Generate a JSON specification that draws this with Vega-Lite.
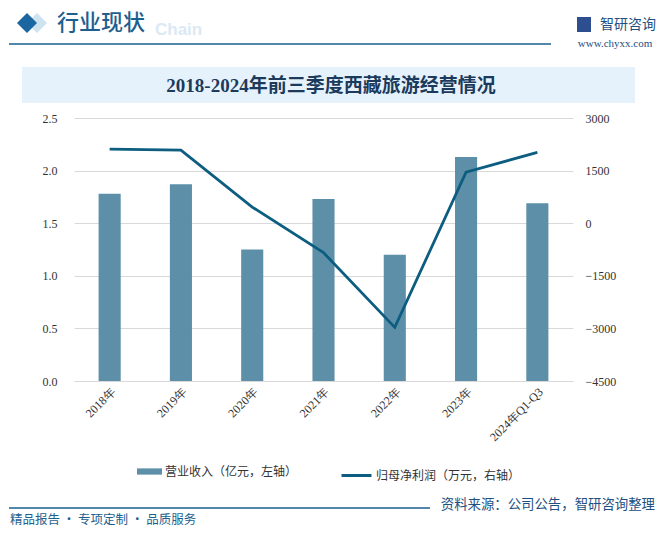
{
  "$schema": "https://vega.github.io/schema/vega-lite/v6.json",
  "width": 499,
  "height": 263,
  "autosize": {"type": "none"},
  "padding": {"left": 74, "top": 118, "right": 94, "bottom": 152},
  "background": "white",
  "config": {
    "view": {"stroke": null},
    "font": "Noto Sans CJK SC"
  },
  "data": {
    "values": [
      {"year": "2018年", "revenue": 1.78, "profit": 2114},
      {"year": "2019年", "revenue": 1.87, "profit": 2086},
      {"year": "2020年", "revenue": 1.25, "profit": 460},
      {"year": "2021年", "revenue": 1.73, "profit": -840},
      {"year": "2022年", "revenue": 1.2, "profit": -2970},
      {"year": "2023年", "revenue": 2.13, "profit": 1457},
      {"year": "2024年Q1-Q3", "revenue": 1.69, "profit": 2017}
    ]
  },
  "layer": [
    {
      "mark": {"type": "bar", "color": "#5d90a8"},
      "encoding": {
        "x": {
          "field": "year", "type": "nominal", "sort": null,
          "scale": {"paddingInner": 0.69, "paddingOuter": 0.345},
          "axis": {
            "title": null, "labelAngle": -45, "labelFont": "Liberation Serif", "labelFontSize": 12,
            "labelColor": "#333333", "ticks": false, "domain": true, "domainColor": "#d9d9d9",
            "labelPadding": 5
          }
        },
        "y": {
          "field": "revenue", "type": "quantitative",
          "scale": {"domain": [0, 2.5]},
          "axis": {
            "title": null, "values": [0, 0.5, 1, 1.5, 2, 2.5], "format": ".1f",
            "ticks": false, "domain": false, "grid": true, "gridColor": "#d9d9d9",
            "labelFont": "Liberation Serif", "labelFontSize": 12, "labelColor": "#333333", "labelPadding": 17
          }
        },
        "color": {
          "datum": "营业收入（亿元，左轴）",
          "scale": {"range": ["#5d90a8"]},
          "legend": {
            "title": null, "orient": "none", "legendX": 63, "legendY": 341, "padding": 0,
            "symbolType": "M-1,-0.25H1V0.25H-1Z", "symbolSize": 625, "symbolStrokeWidth": 0,
            "labelFont": "Noto Sans CJK SC", "labelFontSize": 12, "labelColor": "#333333", "labelLimit": 300, "labelOffset": 3
          }
        }
      }
    },
    {
      "mark": {"type": "line", "color": "#0c5d80", "strokeWidth": 2.8},
      "encoding": {
        "x": {"field": "year", "type": "nominal", "sort": null},
        "y": {
          "field": "profit", "type": "quantitative",
          "scale": {"domain": [-4500, 3000]},
          "axis": {
            "title": null, "orient": "right", "values": [-4500, -3000, -1500, 0, 1500, 3000], "format": "d",
            "ticks": false, "domain": false, "grid": false,
            "labelFont": "Liberation Serif", "labelFontSize": 12, "labelColor": "#333333", "labelPadding": 12
          }
        },
        "stroke": {
          "datum": "归母净利润（万元，右轴）",
          "scale": {"range": ["#0c5d80"]},
          "legend": {
            "title": null, "orient": "none", "legendX": 266, "legendY": 341, "padding": 0,
            "symbolType": "stroke", "symbolSize": 900, "symbolStrokeWidth": 3,
            "labelFont": "Noto Sans CJK SC", "labelFontSize": 12, "labelColor": "#333333", "labelLimit": 300, "labelOffset": 3
          }
        }
      }
    },
    {
      "data": {"values": [{}]},
      "mark": {"type": "rect", "fill": "#e6f2fb"},
      "encoding": {"x": {"value": -52}, "x2": {"value": 561}, "y": {"value": -51}, "y2": {"value": -15}}
    },
    {
      "data": {"values": [{}]},
      "mark": {"type": "text", "text": "2018-2024年前三季度西藏旅游经营情况", "align": "center", "baseline": "middle",
        "font": "Liberation Serif, Noto Sans CJK SC", "fontSize": 19, "fontWeight": "bold", "color": "#1b3a5c"},
      "encoding": {"x": {"value": 257}, "y": {"value": -32}}
    },
    {
      "data": {"values": [{}]},
      "mark": {"type": "point", "shape": "diamond", "filled": true, "color": "#cfe2f0", "size": 400, "opacity": 1},
      "encoding": {"x": {"value": -37}, "y": {"value": -95}}
    },
    {
      "data": {"values": [{}]},
      "mark": {"type": "point", "shape": "diamond", "filled": true, "color": "#1a66a0", "size": 400, "opacity": 1},
      "encoding": {"x": {"value": -47}, "y": {"value": -95}}
    },
    {
      "data": {"values": [{}]},
      "mark": {"type": "text", "text": "Chain", "align": "left", "baseline": "middle",
        "font": "Liberation Sans", "fontSize": 17, "fontWeight": "bold", "color": "#dbe9f4"},
      "encoding": {"x": {"value": 81}, "y": {"value": -88}}
    },
    {
      "data": {"values": [{}]},
      "mark": {"type": "text", "text": "行业现状", "align": "left", "baseline": "middle",
        "font": "Noto Sans CJK SC", "fontSize": 22, "fontWeight": 500, "color": "#1d5f8e"},
      "encoding": {"x": {"value": -17}, "y": {"value": -95}}
    },
    {
      "data": {"values": [{}]},
      "mark": {"type": "rule", "color": "#1a5f8e", "strokeWidth": 1.5},
      "encoding": {"x": {"value": -65}, "x2": {"value": 477}, "y": {"value": -74}}
    },
    {
      "data": {"values": [{}]},
      "mark": {"type": "rect", "fill": "#2d4f8f"},
      "encoding": {"x": {"value": 503}, "x2": {"value": 517}, "y": {"value": -101}, "y2": {"value": -86}}
    },
    {
      "data": {"values": [{}]},
      "mark": {"type": "text", "text": "智研咨询", "align": "left", "baseline": "middle",
        "font": "Noto Sans CJK SC", "fontSize": 14, "color": "#1d4f82"},
      "encoding": {"x": {"value": 526}, "y": {"value": -93}}
    },
    {
      "data": {"values": [{}]},
      "mark": {"type": "text", "text": "www.chyxx.com", "align": "center", "baseline": "middle",
        "font": "Liberation Serif", "fontSize": 11, "color": "#1d4f82"},
      "encoding": {"x": {"value": 541}, "y": {"value": -74}}
    },
    {
      "data": {"values": [{}]},
      "mark": {"type": "rule", "color": "#1a5f8e", "strokeWidth": 1.5},
      "encoding": {"x": {"value": -65}, "x2": {"value": 356}, "y": {"value": 390}}
    },
    {
      "data": {"values": [{}]},
      "mark": {"type": "text", "text": "精品报告 · 专项定制 · 品质服务", "align": "left", "baseline": "middle",
        "font": "Noto Sans CJK SC", "fontSize": 12.5, "color": "#1d5f8e"},
      "encoding": {"x": {"value": -64}, "y": {"value": 402}}
    },
    {
      "data": {"values": [{}]},
      "mark": {"type": "text", "text": "资料来源：公司公告，智研咨询整理", "align": "right", "baseline": "middle",
        "font": "Noto Sans CJK SC", "fontSize": 13.4, "color": "#1d4f82"},
      "encoding": {"x": {"value": 581}, "y": {"value": 387}}
    }
  ],
  "resolve": {"scale": {"y": "independent"}}
}
